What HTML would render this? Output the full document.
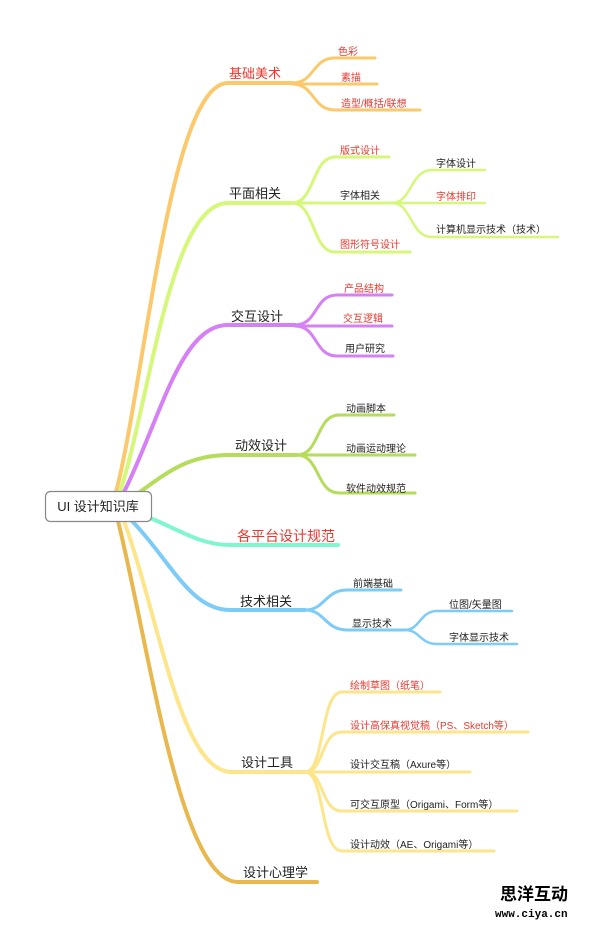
<!DOCTYPE html>
<html><head><meta charset="utf-8"><style>
body{margin:0;background:#fff;width:600px;height:925px;overflow:hidden}
svg text{font-family:"Liberation Sans","Noto Sans CJK SC",sans-serif}
.m{font-size:13px;fill:#222}
.s{font-size:10px;fill:#222}
.r{fill:#e8382e}
</style></head><body>
<svg width="600" height="925" viewBox="0 0 600 925" xmlns="http://www.w3.org/2000/svg" fill="none" stroke-linecap="round">
<!-- orange -->
<g stroke="#fbc96b">
<path d="M116,492 C145,380 170,83 228,83 L292,83" stroke-width="4"/>
<path d="M292,83 C315,83 312,58 335,58 L375,58 M292,84 L377,84 M292,84 C315,84 312,110 335,110 L420,110" stroke-width="3"/>
</g>
<g stroke="#d5f77a">
<path d="M120,492 C150,400 170,203 228,203 L292,203" stroke-width="4"/>
<path d="M292,203 C315,203 312,157 335,157 L389,157 M292,203 L392,203 M292,203 C315,203 312,252 335,252 L410,252" stroke-width="3"/>
<path d="M392,203 C412,203 410,170 432,170 L485,170 M392,203 L485,203 M392,203 C412,203 410,237 432,237 L558,237" stroke-width="2.5"/>
</g>
<g stroke="#d580f5">
<path d="M124,492 C160,420 180,325 228,325 L295,325" stroke-width="4"/>
<path d="M295,325 C318,325 314,295 337,295 L392,295 M295,326 L392,326 M295,326 C318,326 314,356 337,356 L393,356" stroke-width="3"/>
</g>
<g stroke="#b5dc5a">
<path d="M140,492 C170,470 190,455 230,455 L297,455" stroke-width="4"/>
<path d="M297,455 C320,455 316,415 339,415 L394,415 M297,455 L415,455 M297,455 C320,455 316,493 339,493 L415,493" stroke-width="3"/>
</g>
<g stroke="#7ff5d0">
<path d="M150,518 C180,530 200,545 230,545 L338,545" stroke-width="4"/>
</g>
<g stroke="#7cccf7">
<path d="M132,521 C170,560 190,610 230,610 L305,610" stroke-width="4"/>
<path d="M305,610 C325,610 325,590 347,590 L401,590 M305,610 C325,610 325,630 347,630 L405,630" stroke-width="3"/>
<path d="M405,630 C420,630 420,611 437,611 L512,611 M405,630 C420,630 420,644 437,644 L517,644" stroke-width="2.5"/>
</g>
<g stroke="#fce58a">
<path d="M124,521 C160,620 180,772 232,772 L305,772" stroke-width="4"/>
<path d="M305,772 C325,772 320,692 342,692 L440,692 M305,772 C325,772 320,732 342,732 L528,732 M305,772 L470,772 M305,772 C325,772 320,811 342,811 L517,811 M305,772 C325,772 320,851 342,851 L494,851" stroke-width="3"/>
</g>
<g stroke="#e8b84f">
<path d="M118,521 C150,650 180,882 238,882 L317,882" stroke-width="4"/>
</g>
<rect x="45.5" y="491.5" width="106" height="30" rx="5" fill="#fff" stroke="#888" stroke-width="1.2"/>
<text x="98" y="511" class="m" text-anchor="middle" style="font-size:13px">UI 设计知识库</text>

<text x="229" y="78" class="m r">基础美术</text>
<text x="338" y="55" class="s r">色彩</text>
<text x="341" y="81" class="s r">素描</text>
<text x="341" y="107" class="s r">造型/概括/联想</text>

<text x="229" y="198" class="m">平面相关</text>
<text x="340" y="154" class="s r">版式设计</text>
<text x="340" y="199" class="s">字体相关</text>
<text x="340" y="248" class="s r">图形符号设计</text>
<text x="436" y="167" class="s">字体设计</text>
<text x="436" y="200" class="s r">字体排印</text>
<text x="436" y="233" class="s">计算机显示技术（技术）</text>

<text x="231" y="321" class="m">交互设计</text>
<text x="344" y="292" class="s r">产品结构</text>
<text x="343" y="322" class="s r">交互逻辑</text>
<text x="345" y="352" class="s">用户研究</text>

<text x="235" y="450" class="m">动效设计</text>
<text x="346" y="412" class="s">动画脚本</text>
<text x="346" y="452" class="s">动画运动理论</text>
<text x="346" y="492" class="s">软件动效规范</text>

<text x="237" y="541" class="m r" style="font-size:14px">各平台设计规范</text>

<text x="240" y="606" class="m">技术相关</text>
<text x="353" y="587" class="s">前端基础</text>
<text x="352" y="627" class="s">显示技术</text>
<text x="449" y="608" class="s">位图/矢量图</text>
<text x="449" y="641" class="s">字体显示技术</text>

<text x="241" y="767" class="m">设计工具</text>
<text x="350" y="689" class="s r">绘制草图（纸笔）</text>
<text x="350" y="729" class="s r">设计高保真视觉稿（PS、Sketch等）</text>
<text x="350" y="768" class="s">设计交互稿（Axure等）</text>
<text x="350" y="808" class="s">可交互原型（Origami、Form等）</text>
<text x="350" y="848" class="s">设计动效（AE、Origami等）</text>

<text x="243" y="877" class="m">设计心理学</text>

<text x="500" y="900" style="font-size:17px;font-weight:bold;fill:#000;font-family:'Noto Sans CJK SC',sans-serif" stroke="#fff" stroke-width="0">思洋互动</text>
<text x="495" y="917" style="font-size:11px;font-weight:bold;fill:#000;font-family:'Liberation Mono',monospace">www.ciya.cn</text>
</svg>
</body></html>
